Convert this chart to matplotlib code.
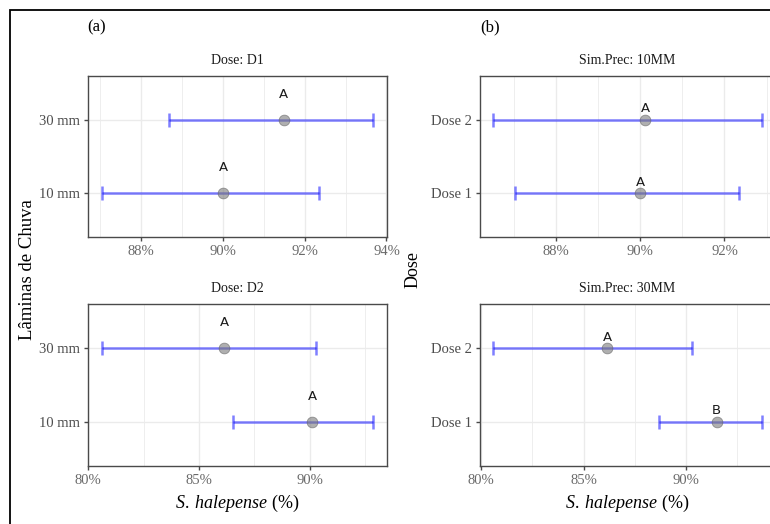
import matplotlib

matplotlib.use("Agg")
import matplotlib.pyplot as plt
from matplotlib.patches import Rectangle
from matplotlib.ticker import FuncFormatter, MultipleLocator

plt.rcParams.update({
    "font.family": "serif",
    "font.serif": ["Liberation Serif", "DejaVu Serif"],
    "mathtext.fontset": "custom",
    "mathtext.rm": "Liberation Serif",
    "mathtext.it": "Liberation Serif:italic",
    "axes.linewidth": 1.0,
})

# ---- data: control (%) of S. halepense, mean and interval ------------------
laminas = ["10 mm", "30 mm"]
d1_mean = [90.00, 91.49]
d1_lo = [87.03, 88.68]
d1_hi = [92.35, 93.68]
d1_letters = ["A", "A"]

d2_mean = [90.12, 86.14]
d2_lo = [86.52, 80.60]
d2_hi = [92.88, 90.30]
d2_letters = ["A", "A"]

doses = ["Dose 1", "Dose 2"]
mm10_letters = ["A", "A"]
mm30_letters = ["B", "A"]

BLUE = (0.0, 0.0, 1.0, 0.5)
BORDER = "#4a4a4a"
GRID = "#ebebeb"

W, H = 770, 524
fig = plt.figure(figsize=(W / 100, H / 100), dpi=100)


def px_axes(l, t, r, b):
    return fig.add_axes([l / W, 1 - b / H, (r - l) / W, (b - t) / H])


def panel(ax, cats, mean, lo, hi, letters, title, major, dy):
    y = list(range(1, len(cats) + 1))
    xerr = [[m - a for m, a in zip(mean, lo)], [b - m for m, b in zip(mean, hi)]]
    ax.errorbar(mean, y, xerr=xerr, fmt="none", ecolor=BLUE, elinewidth=1.8,
                capsize=5, capthick=1.8, zorder=2)
    ax.scatter(mean, y, s=60, color="#7a7a7a", alpha=0.6, edgecolor="#606060",
               linewidth=0.6, zorder=3)
    for m, yy, t in zip(mean, y, letters):
        ax.text(m, yy + dy, t, ha="center", va="center", fontsize=9.5,
                family="DejaVu Sans", color="#1a1a1a", zorder=4)
    span = max(hi) - min(lo)
    ax.set_xlim(min(lo) - 0.05 * span, max(hi) + 0.05 * span)
    ax.set_ylim(0.4, len(cats) + 0.6)
    ax.set_yticks(y)
    ax.set_yticklabels(cats)
    ax.xaxis.set_major_locator(MultipleLocator(major))
    ax.xaxis.set_minor_locator(MultipleLocator(major / 2))
    ax.xaxis.set_major_formatter(FuncFormatter(lambda v, p: f"{v:.0f}%"))
    ax.grid(which="major", color=GRID, lw=1.0, zorder=0)
    ax.grid(which="minor", axis="x", color=GRID, lw=0.6, zorder=0)
    ax.set_axisbelow(True)
    ax.tick_params(which="major", length=3, width=1, color=BORDER,
                   labelsize=10.5, labelcolor="#6a6a6a", pad=3)
    ax.tick_params(which="minor", length=0)
    ax.tick_params(axis="y", labelcolor="#4d4d4d")
    for s in ax.spines.values():
        s.set_color(BORDER)
    ax.set_title(title, fontsize=10, color="#1a1a1a", pad=9)


# (a) faceted by dose
a1 = px_axes(88, 76, 387, 237)
panel(a1, laminas, d1_mean, d1_lo, d1_hi, d1_letters, "Dose: D1", 2, 0.35)
a2 = px_axes(88, 304, 387, 466)
panel(a2, laminas, d2_mean, d2_lo, d2_hi, d2_letters, "Dose: D2", 5, 0.35)

# (b) faceted by simulated precipitation
b1 = px_axes(480, 76, 775, 237)
panel(b1, doses, [d1_mean[0], d2_mean[0]], [d1_lo[0], d2_lo[0]],
      [d1_hi[0], d2_hi[0]], mm10_letters, "Sim.Prec: 10MM", 2, 0.15)
b2 = px_axes(480, 304, 775, 466)
panel(b2, doses, [d1_mean[1], d2_mean[1]], [d1_lo[1], d2_lo[1]],
      [d1_hi[1], d2_hi[1]], mm30_letters, "Sim.Prec: 30MM", 5, 0.15)

for ax in (a2, b2):
    cx = (ax.get_position().x0 + ax.get_position().x1) / 2
    fig.text(cx, 1 - 503 / H, r"$\it{S.\;halepense}$ (%)", fontsize=13,
             ha="center", va="center")

fig.text(28 / W, 1 - 270 / H, "Lâminas de Chuva", rotation=90, fontsize=13.5,
         ha="center", va="center")
fig.text(413 / W, 1 - 270 / H, "Dose", rotation=90, fontsize=13,
         ha="center", va="center")
fig.text(97 / W, 1 - 27 / H, "(a)", fontsize=12, ha="center", va="center")
fig.text(490 / W, 1 - 27 / H, "(b)", fontsize=12, ha="center", va="center")

# outer frame
fig.patches.append(Rectangle((10 / W, -0.1), 1.2, 1 - 10 / H + 0.1,
                             transform=fig.transFigure, fill=False,
                             edgecolor="black", lw=1.3, zorder=10))

fig.savefig("out.png", dpi=100, facecolor="white")
